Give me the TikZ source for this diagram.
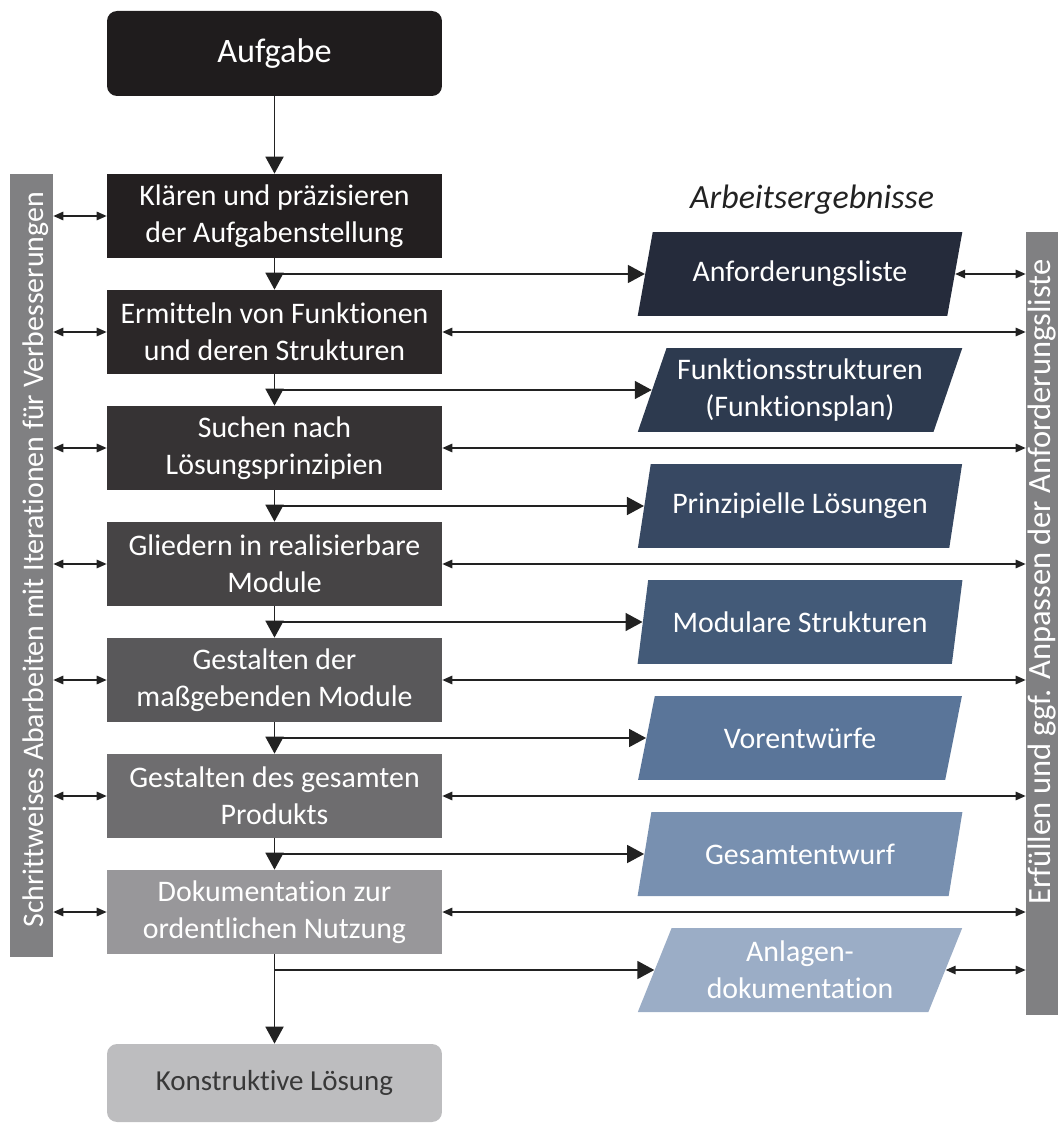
\documentclass[tikz,border=0pt]{standalone}
\usepackage{fontspec}
\setmainfont{Carlito}[Ligatures=NoCommon]
\usetikzlibrary{shapes.geometric,arrows.meta}

\definecolor{taskBlack}{HTML}{1F1C1D}
\definecolor{stepA}{HTML}{231F20}
\definecolor{stepB}{HTML}{2B2728}
\definecolor{stepC}{HTML}{363334}
\definecolor{stepD}{HTML}{464445}
\definecolor{stepE}{HTML}{59585A}
\definecolor{stepF}{HTML}{6E6D6F}
\definecolor{stepG}{HTML}{98979A}
\definecolor{endGray}{HTML}{BDBDBF}
\definecolor{resA}{HTML}{252B3B}
\definecolor{resB}{HTML}{2D3A4F}
\definecolor{resC}{HTML}{374862}
\definecolor{resD}{HTML}{435A78}
\definecolor{resE}{HTML}{5A7599}
\definecolor{resF}{HTML}{7890B0}
\definecolor{resG}{HTML}{9BADC6}
\definecolor{barGray}{HTML}{808082}
\definecolor{lineDark}{HTML}{222222}

\begin{document}
\begin{tikzpicture}[x=0.02cm,y=-0.02cm,
    stepbox/.style={rectangle, minimum width=6.7cm, minimum height=1.68cm,
      inner sep=0pt, align=center, text=white,
      font=\fontsize{17}{21}\selectfont},
    result/.style={trapezium, trapezium left angle=67, trapezium right angle=113,
      trapezium stretches=true, minimum width=6.5cm, minimum height=1.68cm,
      inner sep=0pt, align=center, text=white,
      font=\fontsize{17}{21}\selectfont},
    sidebar/.style={rectangle, fill=barGray, inner sep=0pt},
    bartext/.style={rotate=90, anchor=base west, inner sep=0pt, text=white},
    flow/.style={draw=lineDark, line width=1.1pt,
      -{Triangle[length=0.34cm,width=0.36cm]}},
    branch/.style={flow, line width=0.9pt},
    twoway/.style={draw=lineDark, line width=0.8pt,
      {Triangle[length=0.2cm,width=0.17cm]}-{Triangle[length=0.2cm,width=0.17cm]}}]
    \useasboundingbox (0,0) rectangle (1058,1124);

    % Ablauf
    \node[stepbox, rounded corners=0.2cm, fill=taskBlack, minimum height=1.7cm,
      font=\fontsize{19.5}{23}\selectfont] (task) at (274.5,53.5) {Aufgabe};
    \foreach \i/\txt/\col in {
        1/{Klären und präzisieren\\der Aufgabenstellung}/stepA,
        2/{Ermitteln von Funktionen\\und deren Strukturen}/stepB,
        3/{Suchen nach\\Lösungsprinzipien}/stepC,
        4/{Gliedern in realisierbare\\Module}/stepD,
        5/{Gestalten der\\maßgebenden Module}/stepE,
        6/{Gestalten des gesamten\\Produkts}/stepF,
        7/{Dokumentation zur\\ordentlichen Nutzung}/stepG}
      \node[stepbox, fill=\col] (b\i) at (274.5,{216+116*(\i-1)}) {\txt};
    \node[stepbox, rounded corners=0.2cm, fill=endGray, minimum height=1.56cm,
      text=lineDark!90, font=\fontsize{16.5}{21}\selectfont] (end) at (274.5,1083) {Konstruktive Lösung};

    % Arbeitsergebnisse
    \node[font=\fontsize{19.3}{23}\selectfont\itshape, text=lineDark] (title) at (812,200) {Arbeitsergebnisse};
    \foreach \i/\txt/\col in {
        1/{Anforderungsliste}/resA,
        2/{Funktionsstrukturen\\(Funktionsplan)}/resB,
        3/{Prinzipielle Lösungen}/resC,
        4/{Modulare Strukturen}/resD,
        5/{Vorentwürfe}/resE,
        6/{Gesamtentwurf}/resF,
        7/{Anlagen-\\dokumentation}/resG}
      \node[result, fill=\col] (p\i) at (800,{274+116*(\i-1)}) {\txt};

    % seitliche Balken
    \node[sidebar, minimum width=0.86cm, minimum height=15.66cm] (lbar) at (31.5,565.5) {};
    \node[bartext, font=\fontsize{17}{20}\selectfont] (ltext) at (43,928)
      {Schrittweises Abarbeiten mit Iterationen für Verbesserungen};
    \node[sidebar, minimum width=0.64cm, minimum height=15.66cm] (rbar) at (1042,623.5) {};
    \node[bartext, font=\fontsize{18.5}{22}\selectfont] (rtext) at (1050,905)
      {Erfüllen und ggf. Anpassen der Anforderungsliste};

    \draw[flow] (task) -- (b1);
    \foreach \i/\j in {1/2,2/3,3/4,4/5,5/6,6/7}
      \draw[flow] (b\i) -- (b\j);
    \draw[flow] (b7) -- (end);
    \foreach \i in {1,...,7}
      \draw[branch] (b\i.south |- p\i.west) -- (p\i.west);
    \foreach \i in {1,...,7}
      \draw[twoway] (lbar.east |- b\i.west) -- (b\i.west);
    \foreach \i in {2,...,7}
      \draw[twoway] (b\i.east) -- (b\i.east -| rbar.west);
    \draw[twoway] (p1.east) -- (p1.east -| rbar.west);
    \draw[twoway] (p7.east) -- (p7.east -| rbar.west);
  \end{tikzpicture}
\end{document}
